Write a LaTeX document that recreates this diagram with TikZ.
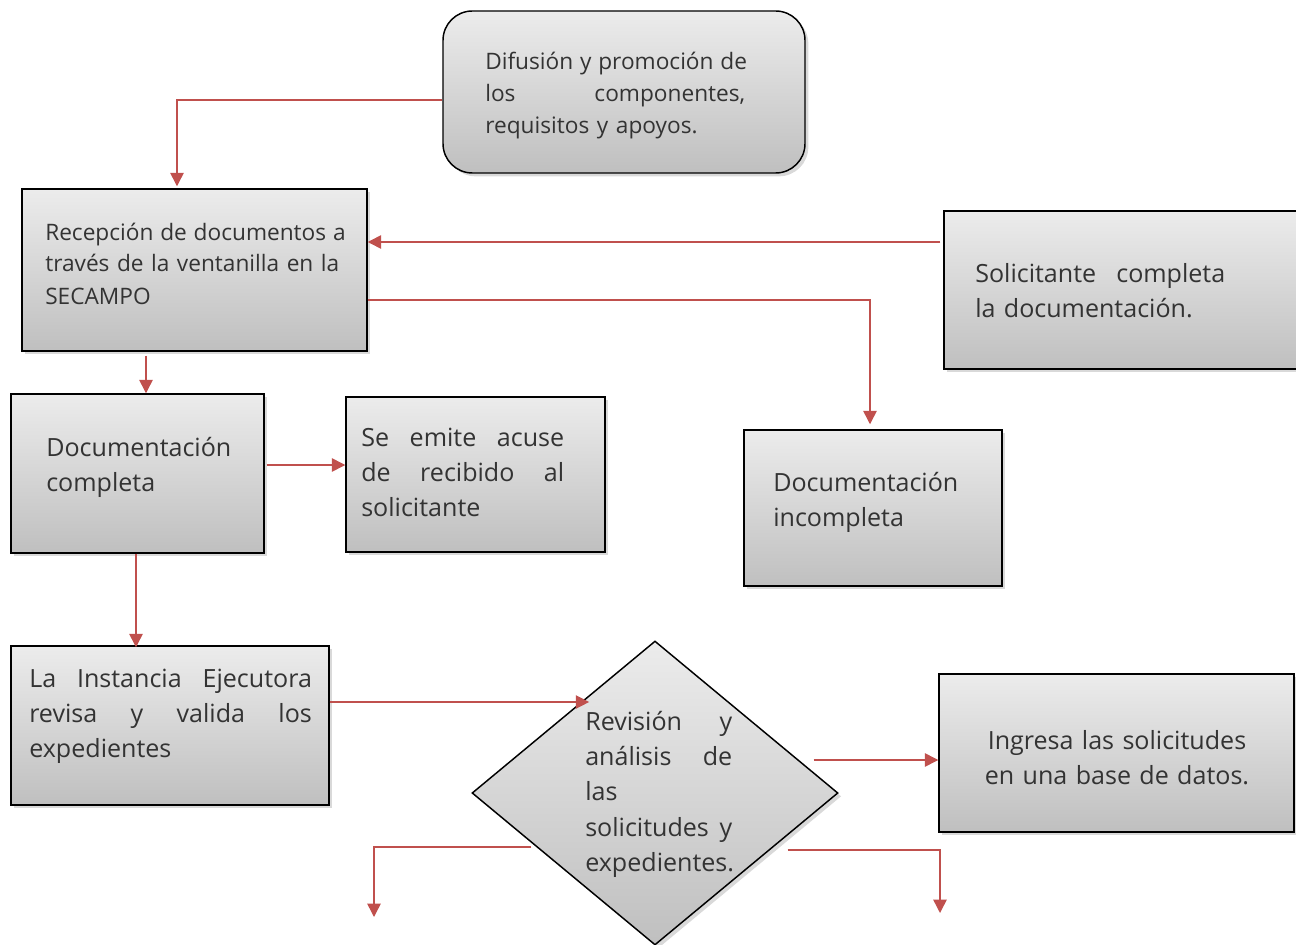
\documentclass[tikz,border=0pt]{standalone}
\usepackage{fontspec}
\setmainfont{Open Sans}
\usetikzlibrary{arrows.meta,shapes.geometric,shadows,calc}

\definecolor{rojo}{RGB}{192,80,77}
\newcommand{\lj}[1]{\makebox[\linewidth][s]{\spaceskip=.3em plus 1fil\relax #1}}

\tikzset{
	caja/.style={draw=black, line width=1.1pt, top color=gray!15, bottom color=gray!50,
		drop shadow={shadow xshift=2.5pt, shadow yshift=-2.5pt, opacity=0.3}, inner sep=0pt},
	texto/.style={text=black!80, inner sep=0pt, align=left, anchor=base west},
	chico/.style={font=\fontsize{17}{24}\selectfont},
	grande/.style={font=\fontsize{18.8}{26.6}\selectfont},
	flecha/.style={draw=rojo, line width=1.1pt, -{Triangle[length=10pt,width=10pt]}},
}

\begin{document}
\begin{tikzpicture}[x=0.75pt,y=0.75pt,yscale=-1,xscale=1]
	\useasboundingbox (0,0) rectangle (1296,945);

	%Rounded Rect
	\node[caja, rounded corners=22pt, minimum width=271.5pt, minimum height=121.5pt] (difusion) at (624,92) {};
	%Shape: Rectangle
	\node[caja, minimum width=258.75pt, minimum height=121.5pt] (recepcion) at (194.5,270) {};
	%Shape: Rectangle
	\node[caja, minimum width=264.75pt, minimum height=118.5pt] (solicitante) at (1120.5,290) {};
	%Shape: Rectangle
	\node[caja, minimum width=189.75pt, minimum height=119.25pt] (doccompleta) at (137.5,473.5) {};
	%Shape: Rectangle
	\node[caja, minimum width=194.25pt, minimum height=116.25pt] (acuse) at (475.5,474.5) {};
	%Shape: Rectangle
	\node[caja, minimum width=193.5pt, minimum height=117pt] (docincompleta) at (873,508) {};
	%Shape: Rectangle
	\node[caja, minimum width=238.5pt, minimum height=119.25pt] (instancia) at (170,725.5) {};
	%Shape: Diamond
	\node[caja, diamond, minimum width=274.5pt, minimum height=228pt] (revision) at (655,793) {};
	%Shape: Rectangle
	\node[caja, minimum width=266.25pt, minimum height=118.5pt] (ingresa) at (1116.5,753) {};

	% Text Node
	\node[texto, chico, text width=195pt] (tdifusion) at (485,70)
		{\lj{Difusión y promoción de}\\ \lj{los componentes,}\\ requisitos y apoyos.};
	% Text Node
	\node[texto, chico, text width=220.5pt] (trecepcion) at (45,240)
		{\lj{Recepción de documentos a}\\ \lj{través de la ventanilla en la}\\ SECAMPO};
	% Text Node
	\node[texto, grande, text width=187.5pt] (tsolicitante) at (975,282)
		{\lj{Solicitante completa}\\ la documentación.};
	% Text Node
	\node[texto, grande, text width=150pt] (tdoccompleta) at (46,456)
		{Documentación\\ completa};
	% Text Node
	\node[texto, grande, text width=152.25pt] (tacuse) at (361,446)
		{\lj{Se emite acuse}\\ \lj{de recibido al}\\ solicitante};
	% Text Node
	\node[texto, grande, text width=150pt] (tdocincompleta) at (773,491)
		{Documentación\\ incompleta};
	% Text Node
	\node[texto, grande, text width=212pt] (tinstancia) at (29,687)
		{\lj{La Instancia Ejecutora}\\ \lj{revisa y valida los}\\ expedientes};
	% Text Node
	\node[texto, grande, text width=110.25pt] (trevision) at (585,730)
		{\lj{Revisión y}\\ \lj{análisis de}\\ las\\ \lj{solicitudes y}\\ expedientes.};
	% Text Node
	\node[texto, grande, text width=220pt, align=center, anchor=base] (tingresa) at (1117,749)
		{Ingresa las solicitudes\\ en una base de datos.};

	%Free ends
	\coordinate (finizq) at (374,917);
	\coordinate (finder) at (940,913);
	\coordinate (s1) at ($(solicitante.west)+(-3,-48)$);
	\coordinate (d1) at ($(doccompleta.east)+(2,-8.5)$);
	\coordinate (i1) at ($(instancia.east)+(0,-23.5)$);
	\coordinate (v1) at ($(revision.east)+(-25,-33)$);

	%Straight Lines
	\draw[flecha] ($(difusion.west)+(0,8)$) -| ($(recepcion.north)+(-17.5,-2)$);
	\draw[flecha] (s1) -- (s1 -| recepcion.east);
	\draw[flecha] ($(recepcion.east)+(0,30)$) -| ($(docincompleta.north)+(-3,-5)$);
	\draw[flecha] ($(recepcion.south)+(-48.5,4)$) -- ($(doccompleta.north)+(8.5,0)$);
	\draw[flecha] (d1) -- (d1 -| acuse.west);
	\draw[flecha] ($(doccompleta.south)+(-1.5,0)$) -- ($(instancia.north)+(-34,2)$);
	\draw[flecha] (i1) -- ($(revision.north west |- i1)+(26,0)$);
	\draw[flecha] (v1) -- (v1 -| ingresa.west);
	\draw[flecha] ($(revision.west)+(60,54)$) -| (finizq);
	\draw[flecha] ($(revision.east)+(-51,57)$) -| (finder);
\end{tikzpicture}
\end{document}
